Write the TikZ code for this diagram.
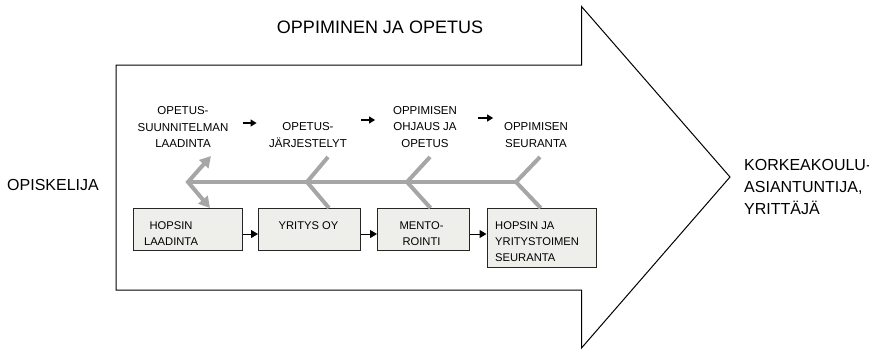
\documentclass[tikz,border=0pt]{standalone}
\usepackage{fontspec}
\setmainfont{Liberation Sans}
\usetikzlibrary{arrows.meta, calc}
\definecolor{fishgray}{HTML}{A6A6A6}
\definecolor{boxfill}{HTML}{EEEEEB}

\begin{document}
\begin{tikzpicture}[x=1pt, y=-1pt,
  fish/.style={draw=fishgray, line width=4pt},
  fishtip/.style={{Triangle[length=11pt,width=12pt]}-{Triangle[length=11pt,width=12pt]}},
  box/.style={draw=black!85, fill=boxfill, line width=1pt, anchor=north west, minimum height=42pt},
  lbl/.style={align=center, inner sep=0pt, font=\fontsize{11.5}{16.2}\selectfont},
  boxlbl/.style={inner sep=0pt, anchor=north, font=\fontsize{11.2}{16}\selectfont},
  small/.style={-{Triangle[length=6pt,width=7pt]}, line width=1.3pt},
  boxarr/.style={-{Triangle[length=7pt,width=8pt]}, line width=1pt}]
  \useasboundingbox (0,0) rectangle (869,351);
  \draw[line width=1pt] (116,65) -- (581.5,65) -- (581.5,6.5) -- (730,177)
  -- (581.5,348) -- (581.5,290) -- (116,290) -- cycle;
  \node[font=\fontsize{18}{22}\selectfont] (title) at (380,27) {OPPIMINEN JA OPETUS};
  \node[font=\fontsize{16}{22}\selectfont] (opisk) at (53,185) {OPISKELIJA};
  \node[font=\fontsize{16}{22}\selectfont, align=left, anchor=north west, inner sep=0pt]
  (asiant) at (744,159.5) {KORKEAKOULU-\\ASIANTUNTIJA,\\YRITTÄJÄ};
  \node[lbl] (plan) at (183,127) {OPETUS-\\SUUNNITELMAN\\LAADINTA};
  \node[lbl] (jarj) at (308,135) {OPETUS-\\JÄRJESTELYT};
  \node[lbl] (ohj) at (425,127) {OPPIMISEN\\OHJAUS JA\\OPETUS};
  \node[lbl] (seur) at (536,135) {OPPIMISEN\\SEURANTA};
  \draw[small] (plan.east) ++(14,-4) -- ++(14,0);
  \draw[small] (jarj.east) ++(14,-15) -- ++(14,0);
  \draw[small] (ohj.east) ++(21,-9) -- ++(15,0);
  \node[box, minimum width=109pt] (bhops) at (133,208) {};
  \node[box, minimum width=102pt] (byri) at (258,208) {};
  \node[box, minimum width=92pt] (bment) at (377,208) {};
  \node[box, minimum width=109.5pt, minimum height=59pt] (bseur) at (486.5,208) {};
  \node[boxlbl, align=center] (thops) at (171,221.5) {HOPSIN\\LAADINTA};
  \node[boxlbl] (tyri) at (308.5,221.5) {YRITYS OY};
  \node[boxlbl, align=center] (tment) at (421.5,221.5) {MENTO-\\ROINTI};
  \node[boxlbl, align=left, anchor=north west] (tseur) at (495,221.5)
  {HOPSIN JA\\YRITYSTOIMEN\\SEURANTA};
  \draw[boxarr] (bhops.east |- 0,234) -- (byri.west |- 0,234);
  \draw[boxarr] (byri.east |- 0,234) -- (bment.west |- 0,234);
  \draw[boxarr] (bment.east |- 0,234) -- (bseur.west |- 0,234);
  \coordinate (j0) at (188,182);
  \coordinate (j1) at (307,182);
  \coordinate (j2) at (407,182);
  \coordinate (j3) at (516,182);
  \draw[fish] (j0) -- (j3);
  \draw[fish, fishtip] ($(j0)+(23,-26)$) -- (j0) -- (bhops.north -| 210,0);
  \draw[fish] ($(j1)+(21,-25)$) -- (j1) -- ([xshift=19.5pt]byri.north);
  \draw[fish] ($(j2)+(23,-25)$) -- (j2) -- ([xshift=7pt]bment.north);
  \draw[fish] ($(j3)+(24,-25)$) -- (j3) -- ([xshift=-1pt]bseur.north);
\end{tikzpicture}
\end{document}
